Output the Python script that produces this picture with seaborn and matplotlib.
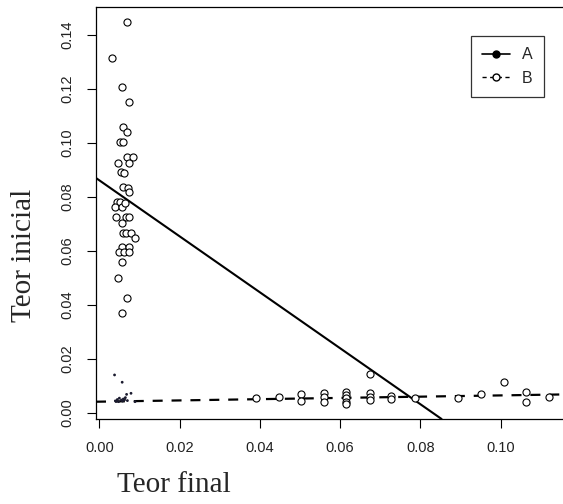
import numpy as np
import pandas as pd
import matplotlib
matplotlib.use("Agg")
import matplotlib.pyplot as plt
import seaborn as sns
from matplotlib.lines import Line2D

# ---- data ----
b_final = [0.0069, 0.0032, 0.0056, 0.0073, 0.0060, 0.0069, 0.0052, 0.0060,
           0.0068, 0.0084, 0.0046, 0.0074, 0.0053, 0.0061, 0.0060, 0.0072,
           0.0075, 0.0045, 0.0052, 0.0039, 0.0056, 0.0065, 0.0041, 0.0066,
           0.0073, 0.0056, 0.0058, 0.0066, 0.0080, 0.0089, 0.0056, 0.0074,
           0.0049, 0.0062, 0.0073, 0.0056, 0.0046, 0.0069, 0.0056,
           0.0390, 0.0448, 0.0502, 0.0502, 0.0560, 0.0560, 0.0560,
           0.0614, 0.0614, 0.0614, 0.0614, 0.0614, 0.0674, 0.0674, 0.0674,
           0.0674, 0.0727, 0.0727, 0.0786, 0.0894, 0.0952, 0.1009, 0.1063,
           0.1063, 0.1121]
b_inicial = [0.1448, 0.1316, 0.1206, 0.1151, 0.1060, 0.1041, 0.1003, 0.1003,
             0.0949, 0.0949, 0.0927, 0.0927, 0.0891, 0.0888, 0.0838, 0.0835,
             0.0817, 0.0781, 0.0781, 0.0763, 0.0763, 0.0779, 0.0725, 0.0725,
             0.0725, 0.0705, 0.0668, 0.0668, 0.0668, 0.0649, 0.0614, 0.0614,
             0.0596, 0.0595, 0.0596, 0.0558, 0.0501, 0.0427, 0.0369,
             0.0054, 0.0058, 0.0070, 0.0044, 0.0073, 0.0058, 0.0042,
             0.0079, 0.0067, 0.0054, 0.0042, 0.0033, 0.0143, 0.0073, 0.0060,
             0.0048, 0.0064, 0.0051, 0.0054, 0.0054, 0.0069, 0.0116, 0.0079,
             0.0042, 0.0058]

a_final = [0.0038, 0.0057, 0.0079, 0.0068, 0.0040, 0.0045, 0.0050, 0.0055,
           0.0060, 0.0065, 0.0070, 0.0048, 0.0058, 0.0063, 0.0089, 0.0042]
a_inicial = [0.0141, 0.0114, 0.0073, 0.0069, 0.0045, 0.0050, 0.0055, 0.0048,
             0.0052, 0.0057, 0.0046, 0.0042, 0.0044, 0.0049, 0.0042, 0.0043]

# fitted lines: intercept, slope
a_line = (0.0862, -1.037)
b_line = (0.0042, 0.0232)

x_ticks = [0.00, 0.02, 0.04, 0.06, 0.08, 0.10]
y_ticks = [0.00, 0.02, 0.04, 0.06, 0.08, 0.10, 0.12, 0.14]
legend_labels = ["A", "B"]

# ---- plot ----
sns.set_style("white")
plt.rcParams["font.family"] = ["Liberation Sans", "DejaVu Sans"]

fig = plt.figure(figsize=(5.63, 5.04), dpi=100)
W, H = 563, 504
ax = fig.add_axes([96 / W, (H - 419) / H, (575 - 96) / W, (419 - 7) / H])

dfb = pd.DataFrame({"final": b_final, "inicial": b_inicial})
dfa = pd.DataFrame({"final": a_final, "inicial": a_inicial})

ax.axline((0, a_line[0]), slope=a_line[1], color="black", lw=1.5, zorder=2)
ax.axline((0, b_line[0]), slope=b_line[1], color="black", lw=1.6,
          linestyle=(0, (4.5, 4)), zorder=2)

sns.scatterplot(data=dfb, x="final", y="inicial", ax=ax, marker="o",
                s=26, facecolor="white", edgecolor="black", linewidth=0.8,
                zorder=3)
sns.scatterplot(data=dfa, x="final", y="inicial", ax=ax, marker="o",
                s=4, color="#1a1a2e", edgecolor="none", zorder=4)

ax.set_xlim(-0.00082, 0.1185)
ax.set_ylim(-0.00222, 0.1504)
ax.set_xticks(x_ticks)
ax.set_xticklabels([f"{v:.2f}" for v in x_ticks], fontsize=10.5, color="#222222")
ax.set_yticks(y_ticks)
ax.set_yticklabels([f"{v:.2f}" for v in y_ticks], fontsize=10.5, color="#222222",
                   rotation=90, va="center")
ax.tick_params(axis="both", direction="out", length=6.5, width=0.8, color="black",
               bottom=True, left=True, pad=9)
ax.set_xlabel("")
ax.set_ylabel("")
for side in ["left", "top", "bottom", "right"]:
    ax.spines[side].set_color("black")
    ax.spines[side].set_linewidth(0.9)
ax.spines["right"].set_visible(False)

fig.text(174 / W, 1 - 485 / H, "Teor final", family="Liberation Serif",
         fontsize=21, ha="center", va="center")
fig.text(24 / W, 1 - 255 / H, "Teor inicial", family="Liberation Serif",
         fontsize=21, ha="center", va="center", rotation=90)

handles = [
    Line2D([0], [0], color="black", lw=1.2, marker="o", markersize=5,
           markerfacecolor="black"),
    Line2D([0], [0], color="black", lw=1.0, linestyle=(0, (3, 2.5)), marker="o",
           markersize=5, markerfacecolor="white"),
]
leg = ax.legend(handles, legend_labels, loc="upper left",
                bbox_to_anchor=((471 - 96) / (575 - 96), 1 - (36 - 7) / (419 - 7)),
                frameon=True, fancybox=False, edgecolor="black", fontsize=11.5,
                handlelength=1.75, handletextpad=0.75, borderpad=0.7,
                labelspacing=0.55, borderaxespad=0)
leg.get_frame().set_linewidth(0.9)

fig.savefig("out.png", dpi=100)
